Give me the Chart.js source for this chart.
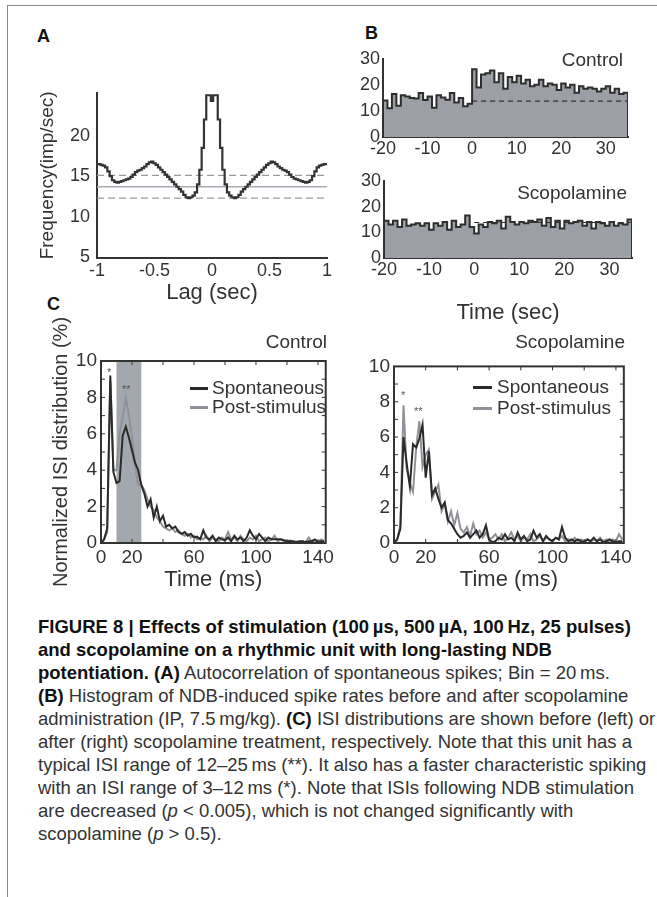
<!DOCTYPE html>
<html>
<head>
<meta charset="utf-8">
<script src="https://cdn.jsdelivr.net/npm/chart.js@4.4.0/dist/chart.umd.min.js"></script>
<style>
body{margin:0;background:#fff;width:657px;height:897px;position:relative;overflow:hidden;font-family:"Liberation Sans",Arial,sans-serif;color:#333}
.frame{position:absolute;left:7px;top:5px;width:700px;height:900px;border-top:1px solid #8a8a8a;border-left:1px solid #8a8a8a}
canvas{position:absolute}
.lbl{position:absolute;font-weight:bold;font-size:18px;color:#111;line-height:18px}
.txt{position:absolute;font-size:19px;line-height:20px;color:#333;white-space:nowrap}
.ln{position:absolute;height:3px}
.star{position:absolute;font-size:11px;line-height:11px;color:#555}
.cap{position:absolute;left:38px;top:615px;font-family:"Liberation Sans",Arial,sans-serif;font-size:19px;line-height:23px;color:#333;transform-origin:0 0}
.cap div{white-space:nowrap;width:max-content}
.cap b{color:#111}
</style>
</head>
<body>
<div class="frame"></div>

<div class="lbl" style="left:37px;top:27px">A</div>
<div class="lbl" style="left:365px;top:24px">B</div>
<div class="lbl" style="left:47px;top:295px">C</div>

<canvas id="chartA" width="303" height="235" style="left:32px;top:75px"></canvas>
<canvas id="chartB1" width="290" height="118" style="left:345px;top:45px"></canvas>
<canvas id="chartB2" width="292" height="163" style="left:345px;top:167px"></canvas>
<canvas id="chartC1" width="292" height="297" style="left:45px;top:300px"></canvas>
<canvas id="chartC2" width="275" height="246" style="left:360px;top:351px"></canvas>

<div class="txt" style="right:34px;top:50px">Control</div>
<div class="txt" style="right:30px;top:183px">Scopolamine</div>
<div class="txt" style="right:330px;top:332px">Control</div>
<div class="txt" style="right:32px;top:332px">Scopolamine</div>

<div class="ln" style="left:190px;top:387px;width:18px;background:#2a2a2a"></div>
<div class="txt" style="left:212px;top:378px">Spontaneous</div>
<div class="ln" style="left:190px;top:406px;width:18px;background:#8f9298"></div>
<div class="txt" style="left:212px;top:397px">Post-stimulus</div>
<div class="ln" style="left:473px;top:386px;width:19px;background:#2a2a2a"></div>
<div class="txt" style="left:497px;top:377px">Spontaneous</div>
<div class="ln" style="left:473px;top:407px;width:19px;background:#8f9298"></div>
<div class="txt" style="left:497px;top:398px">Post-stimulus</div>

<div class="star" style="left:107px;top:367px">*</div>
<div class="star" style="left:122px;top:384px">**</div>
<div class="star" style="left:401px;top:390px">*</div>
<div class="star" style="left:414px;top:406px">**</div>

<div class="cap" id="cap">
<div><b>FIGURE 8 | Effects of stimulation (100&thinsp;µs, 500&thinsp;µA, 100&thinsp;Hz, 25 pulses)</b></div>
<div><b>and scopolamine on a rhythmic unit with long-lasting NDB</b></div>
<div><b>potentiation. (A)</b> Autocorrelation of spontaneous spikes; Bin = 20&thinsp;ms.</div>
<div><b>(B)</b> Histogram of NDB-induced spike rates before and after scopolamine</div>
<div>administration (IP, 7.5&thinsp;mg/kg). <b>(C)</b> ISI distributions are shown before (left) or</div>
<div id="capRef">after (right) scopolamine treatment, respectively. Note that this unit has a</div>
<div>typical ISI range of 12–25&thinsp;ms (**). It also has a faster characteristic spiking</div>
<div>with an ISI range of 3–12&thinsp;ms (*). Note that ISIs following NDB stimulation</div>
<div>are decreased (<i>p</i> &lt; 0.005), which is not changed significantly with</div>
<div>scopolamine (<i>p</i> &gt; 0.5).</div>
</div>

<script>
// A: autocorrelation of spontaneous spikes, 20 ms bins from -1 to 1 s
const lagStart = -1.0;
const lagBin = 0.02;
const autoCorr = [
  16.5, 16.5, 16.4, 16.3, 16.1, 15.6, 15.0, 14.5, 14.3, 14.2,
  14.3, 14.4, 14.5, 14.6, 14.7, 14.9, 15.2, 15.5, 15.7, 15.8,
  16.0, 16.2, 16.5, 16.7, 16.8, 16.6, 16.4, 16.1, 15.8, 15.5,
  15.2, 14.9, 14.6, 14.3, 14.0, 13.7, 13.4, 13.1, 12.7, 12.4,
  12.3, 12.4, 12.6, 13.0, 14.0, 15.8, 18.5, 22.0, 25.0, 25.0,
  24.3,
  25.0, 25.0, 22.0, 18.5, 15.8, 14.0, 13.0, 12.6, 12.4, 12.3,
  12.4, 12.7, 13.1, 13.4, 13.7, 14.0, 14.3, 14.6, 14.9, 15.2,
  15.5, 15.8, 16.1, 16.4, 16.6, 16.8, 16.7, 16.5, 16.2, 16.0,
  15.8, 15.7, 15.5, 15.2, 14.9, 14.7, 14.6, 14.5, 14.4, 14.3,
  14.2, 14.3, 14.5, 15.0, 15.6, 16.1, 16.3, 16.4, 16.5, 16.5
];
const autoMean = 13.7;
const autoUpper = 15.1;
const autoLower = 12.3;
const lagTicks = [-1, -0.5, 0, 0.5, 1];
const freqTicks = [5, 10, 15, 20];

// B: NDB-induced spike rate histograms, 1 s bins from -20 s
const timeStart = -20;
const timeBin = 1;
const rateControl = [
  14, 11, 16.5, 12, 16, 15.5, 15, 14.8, 16.9, 14.2,
  15.5, 11.2, 16, 15.2, 14.3, 16.9, 13.2, 15, 11.8, 12.8,
  26, 19, 24, 24.5, 25.5, 21, 24.5, 18.5, 23, 21,
  23.5, 20.5, 22, 19.5, 20, 22, 19.5, 20.5, 20, 18,
  20.5, 19, 20, 17, 19.5, 18.5, 19, 18.5, 17.5, 18.5,
  19.5, 17, 18.5, 16.5, 17
];
const rateScopol = [
  14.5, 13, 14.5, 12, 15, 12.5, 13, 13.5, 12.5, 13.5,
  11, 13.5, 12.5, 14, 11, 14.5, 12, 13, 16.5, 12,
  9.5, 13, 12, 14, 13.5, 14.5, 11.5, 16, 14, 13,
  14, 13.5, 14.5, 14, 15, 12.5, 15.5, 12, 14.5, 11.5,
  14.5, 13.5, 14, 14.5, 12.5, 14, 11.5, 14, 13.5, 12.5,
  14, 12.5, 13.5, 13, 15
];
const baseControl = 13.8;
const baseScopol = 13.8;
const timeTicks = [-20, -10, 0, 10, 20, 30];
const rateTicks = [0, 10, 20, 30];

// C: ISI distributions, 2 ms bins from 0 ms
const isiStart = 0;
const isiBin = 2;
const isiCtrlSpont = [
  0, 0.2, 0.8, 9.2, 3.9, 3.3, 3.4, 5.9, 6.4, 5.8,
  5.1, 4.4, 4.0, 3.2, 2.7, 2.0, 2.4, 1.4, 2.0, 1.2,
  1.5, 0.9, 1.0, 0.8, 0.9, 0.6, 0.5, 0.6, 0.4, 0.5,
  0.3, 0.35, 0.2, 0.7, 0.3, 0.2, 0.4, 0.1, 0.3, 0.2,
  0.15, 0.3, 0.1, 0.4, 0.2, 0.3, 0.1, 0.3, 0.7, 0.4,
  0.2, 0.5, 0.3, 0.1, 0.3, 0.2, 0.2, 0.2, 0.2, 0.15,
  0.1, 0.1, 0.1, 0.05, 0.1, 0.1, 0.05, 0.1, 0.1, 0.2,
  0.05, 0.1, 0.1
];
const isiCtrlPost = [
  0, 0.2, 0.6, 8.9, 4.0, 4.0, 6.0, 6.9, 8.0, 7.0,
  5.8, 4.2, 3.2, 3.2, 2.9, 2.4, 2.0, 1.8, 1.4, 1.2,
  0.9, 0.8, 0.7, 0.8, 0.6, 0.7, 0.5, 0.4, 0.5, 0.3,
  0.4, 0.2, 0.3, 0.2, 0.4, 0.1, 0.3, 0.2, 0.1, 0.3,
  0.2, 0.6, 0.2, 0.3, 0.1, 0.4, 0.2, 0.1, 0.3, 0.2,
  0.4, 0.1, 0.2, 0.3, 0.1, 0.2, 0.4, 0.1, 0.2, 0.1,
  0.1, 0.15, 0.05, 0.1, 0.05, 0.1, 0.05, 0.3, 0.05, 0.15,
  0.05, 0.2, 0.1
];
const isiScopSpont = [
  0, 0.2, 0.8, 6.0, 4.5, 3.2, 5.6, 5.4, 5.9, 6.7,
  3.7, 5.2, 2.7, 3.1, 2.5, 2.0, 2.3, 1.3, 1.1, 0.8,
  0.5, 0.3, 0.4, 0.6, 0.3, 0.5, 0.7, 0.3, 0.5, 1.0,
  0.2, 0.05, 0.1, 0.3, 0.2, 0.5, 0.2, 0.3, 0.1, 0.6,
  0.2, 0.4, 0.1, 0.2, 0.7, 0.3, 0.5, 0.1, 0.4, 0.2,
  0.1, 0.3, 0.2, 0.9, 0.3, 0.1, 0.2, 0.1, 0.2, 0.1,
  0.05, 0.2, 0.1, 0.3, 0.1, 0.2, 0.05, 0.1, 0.2, 0.1,
  0.05, 0.1, 0.1
];
const isiScopPost = [
  0, 0.2, 1.0, 7.8, 4.2, 3.4, 2.9, 5.4, 6.9, 4.3,
  5.0, 5.3, 2.5, 2.9, 3.3, 1.8, 2.2, 1.2, 1.8, 1.0,
  1.7, 0.8, 0.6, 0.9, 0.4, 1.1, 0.5, 0.7, 0.3, 0.6,
  0.2, 0.3, 0.5, 0.2, 0.5, 0.1, 0.3, 0.6, 0.2, 0.4,
  0.1, 0.3, 0.2, 0.5, 0.1, 0.2, 0.4, 0.1, 0.3, 0.2,
  0.1, 0.3, 0.2, 0.4, 0.1, 0.2, 0.1, 0.3, 0.1, 0.2,
  0.1, 0.2, 0.05, 0.2, 0.1, 0.3, 0.1, 0.2, 0.05, 0.2,
  0.1, 0.5, 0.2
];
const isiTicks = [0, 20, 60, 100, 140];
const isiMinorTicks = [20, 40, 60, 80, 100, 120, 140];
const isiYTicks = [0, 2, 4, 6, 8, 10];
const isiYMinor = [1, 2, 3, 4, 5, 6, 7, 8, 9];
const isiBand = [10, 26];

const FONT = '"Liberation Sans", Arial, sans-serif';
Chart.defaults.font.family = FONT;
Chart.defaults.color = '#333';
Chart.defaults.animation = false;

const DARK = '#2a2a2a';
const GRAY = '#8f9298';

function binPoints(start, width, vals) {
  return vals.map((v, i) => ({ x: start + i * width, y: v }));
}

function histPoints(start, width, vals) {
  const end = start + vals.length * width;
  const pts = [{ x: start, y: 0 }].concat(binPoints(start, width, vals));
  pts.push({ x: end, y: vals[vals.length - 1] });
  pts.push({ x: end, y: 0 });
  return pts;
}

function fixedTicks(list) {
  return scale => { scale.ticks = list.map(v => ({ value: v })); };
}

// box frame, inner ticks and shaded ISI range for panel C
const boxFrame = {
  id: 'boxFrame',
  beforeDatasetsDraw(chart, args, opts) {
    if (!opts.band) return;
    const { ctx, chartArea: a, scales: { x } } = chart;
    ctx.save();
    ctx.fillStyle = '#a3a7ae';
    const x0 = x.getPixelForValue(opts.band[0]);
    const x1 = x.getPixelForValue(opts.band[1]);
    ctx.fillRect(x0, a.top, x1 - x0, a.bottom - a.top);
    ctx.restore();
  },
  afterDatasetsDraw(chart, args, opts) {
    if (!opts.frame) return;
    const { ctx, chartArea: a, scales: { x, y } } = chart;
    ctx.save();
    ctx.strokeStyle = '#333';
    ctx.lineWidth = 2;
    ctx.strokeRect(a.left, a.top, a.right - a.left, a.bottom - a.top);
    ctx.lineWidth = 1;
    ctx.beginPath();
    isiMinorTicks.forEach(v => {
      const px = x.getPixelForValue(v);
      ctx.moveTo(px, a.bottom); ctx.lineTo(px, a.bottom - 4);
      ctx.moveTo(px, a.top); ctx.lineTo(px, a.top + 4);
    });
    isiYMinor.forEach(v => {
      const py = y.getPixelForValue(v);
      ctx.moveTo(a.left, py); ctx.lineTo(a.left + 4, py);
      ctx.moveTo(a.right, py); ctx.lineTo(a.right - 4, py);
    });
    ctx.stroke();
    ctx.restore();
  }
};
Chart.register(boxFrame);

function lineSet(points, color, width, extra) {
  return Object.assign({ data: points, borderColor: color, borderWidth: width, pointRadius: 0, fill: false, tension: 0 }, extra || {});
}

const noGrid = { display: false, drawTicks: false };

// ---- A ----
new Chart(document.getElementById('chartA'), {
  type: 'line',
  data: {
    datasets: [
      lineSet(binPoints(lagStart, lagBin, autoCorr), '#333', 2.2, { stepped: 'middle' }),
      lineSet([{ x: -1, y: autoUpper }, { x: 1, y: autoUpper }], '#9a9a9a', 1.3, { borderDash: [7, 4] }),
      lineSet([{ x: -1, y: autoMean }, { x: 1, y: autoMean }], '#a9abb4', 1.3),
      lineSet([{ x: -1, y: autoLower }, { x: 1, y: autoLower }], '#9a9a9a', 1.3, { borderDash: [7, 4] })
    ]
  },
  options: {
    responsive: false,
    layout: { padding: { top: 8, right: 8 } },
    plugins: { legend: { display: false }, tooltip: { enabled: false } },
    scales: {
      x: {
        type: 'linear', min: -1, max: 1,
        afterBuildTicks: fixedTicks(lagTicks),
        afterFit: s => { s.height = 52; },
        grid: noGrid,
        border: { color: '#333', width: 2 },
        ticks: { font: { size: 18 }, padding: 2, maxRotation: 0, autoSkip: false, callback: v => String(v) },
        title: { display: true, text: 'Lag (sec)', font: { size: 22 }, padding: { top: 0, bottom: 4 } }
      },
      y: {
        min: 4.9, max: 25.3,
        afterBuildTicks: fixedTicks(freqTicks),
        afterFit: s => { s.width = 65; },
        grid: noGrid,
        border: { color: '#333', width: 2 },
        ticks: { font: { size: 18 }, padding: 7, autoSkip: false },
        title: { display: true, text: 'Frequency(imp/sec)', font: { size: 19 }, padding: { top: 4, bottom: 0 } }
      }
    }
  }
});

// ---- B ----
function rateChart(id, values, base, yWidth, xHeight, padTop, padRight, showTitle) {
  return new Chart(document.getElementById(id), {
    type: 'line',
    data: {
      datasets: [
        lineSet([{ x: 0, y: base }, { x: timeStart + values.length * timeBin, y: base }], '#333', 1.2, { borderDash: [5, 4] }),
        lineSet(histPoints(timeStart, timeBin, values), '#2e2e2e', 2, { stepped: 'before', fill: 'origin', backgroundColor: '#9c9fa6' })
      ]
    },
    options: {
      responsive: false,
      layout: { padding: { top: padTop, right: padRight } },
      plugins: { legend: { display: false }, tooltip: { enabled: false } },
      scales: {
        x: {
          type: 'linear', min: timeStart, max: timeStart + values.length * timeBin,
          afterBuildTicks: fixedTicks(timeTicks),
          afterFit: s => { s.height = xHeight; },
          grid: noGrid,
          border: { color: '#333', width: 2 },
          ticks: { font: { size: 18 }, padding: 1, maxRotation: 0, autoSkip: false },
          title: { display: showTitle, text: 'Time (sec)', font: { size: 22 }, padding: { top: 0, bottom: 4 } }
        },
        y: {
          min: 0, max: 30,
          afterBuildTicks: fixedTicks(rateTicks),
          afterFit: s => { s.width = yWidth; },
          grid: noGrid,
          border: { color: '#333', width: 2 },
          ticks: { font: { size: 18 }, padding: 3, autoSkip: false }
        }
      }
    }
  });
}
rateChart('chartB1', rateControl, baseControl, 38, 26, 8, 7, false);
rateChart('chartB2', rateScopol, baseScopol, 39, 72, 8, 5, true);

// ---- C ----
function isiChart(id, spont, post, yWidth, padTop, padRight, yTitle, band) {
  return new Chart(document.getElementById(id), {
    type: 'line',
    data: {
      datasets: [
        lineSet(binPoints(isiStart, isiBin, spont), DARK, 2),
        lineSet(binPoints(isiStart, isiBin, post), GRAY, 2)
      ]
    },
    options: {
      responsive: false,
      layout: { padding: { top: padTop, right: padRight } },
      plugins: { legend: { display: false }, tooltip: { enabled: false }, boxFrame: { frame: true, band: band } },
      scales: {
        x: {
          type: 'linear', min: 0, max: 145,
          afterBuildTicks: fixedTicks(isiTicks),
          afterFit: s => { s.height = 54; },
          grid: noGrid,
          border: { display: false },
          ticks: { font: { size: 19 }, padding: 3, maxRotation: 0, autoSkip: false },
          title: { display: true, text: 'Time (ms)', font: { size: 22 }, padding: { top: 0, bottom: 4 } }
        },
        y: {
          min: 0, max: 10,
          afterBuildTicks: fixedTicks(isiYTicks),
          afterFit: s => { s.width = yWidth; },
          grid: noGrid,
          border: { display: false },
          ticks: { font: { size: 19 }, padding: 4, autoSkip: false },
          title: { display: !!yTitle, text: yTitle, font: { size: 20 }, padding: { top: 4, bottom: 0 } }
        }
      }
    }
  });
}
isiChart('chartC1', isiCtrlSpont, isiCtrlPost, 56, 61, 5, 'Normalized ISI distribution (%)', isiBand);
isiChart('chartC2', isiScopSpont, isiScopPost, 34, 10, 7, '', null);

// caption set in a condensed width, like the journal's narrow face
const capRefWidth = 594;
const cap = document.getElementById('cap');
const w = document.getElementById('capRef').getBoundingClientRect().width;
cap.style.transform = 'scaleX(' + (capRefWidth / w).toFixed(4) + ')';
</script>
</body>
</html>
